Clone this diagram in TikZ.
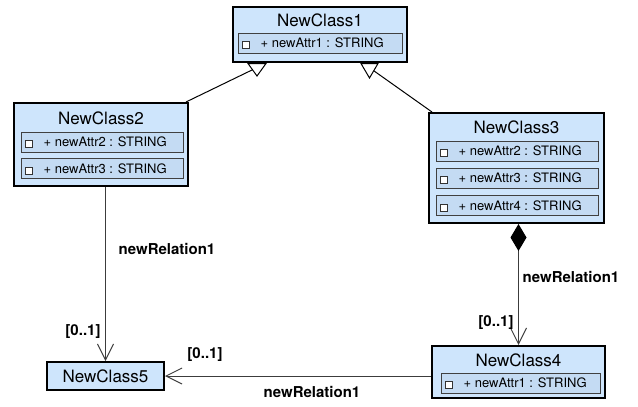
\documentclass[tikz,border=0pt]{standalone}
\usepackage{fontspec}
\setmainfont{TeX Gyre Heros}
\usetikzlibrary{arrows.meta,calc}

\definecolor{classfill}{RGB}{206,229,252}
\definecolor{attrfill}{RGB}{196,219,243}
\definecolor{linegray}{RGB}{60,60,60}

% attribute row: name, centre x, centre y, width, text
\newcommand\attrrowat[5]{%
  \node[attrrow, minimum width=#4, minimum height=20pt] (#1) at (#2,#3) {};
  \node[checkbox] (#1box) at ([xshift=8.5pt,yshift=-2pt]#1.west) {};
  \node[attrtext] (#1txt) at ([xshift=23pt]#1.west) {#5};
}

\begin{document}
\begin{tikzpicture}[x=1pt,y=-1pt,
  classbox/.style={draw=black, line width=2pt, fill=classfill, inner sep=0pt},
  classtitle/.style={font=\fontsize{17}{17}\selectfont, inner sep=0pt},
  attrrow/.style={draw=black!75, line width=1pt, fill=attrfill, inner sep=0pt},
  attrtext/.style={font=\fontsize{13}{13}\selectfont, anchor=west, inner sep=0pt},
  checkbox/.style={draw=black!80, line width=0.8pt, fill=white, minimum size=7pt, inner sep=0pt},
  lbl/.style={font=\bfseries\fontsize{15}{15}\selectfont, inner sep=0pt},
  conn/.style={draw=linegray, line width=1pt},
  vhead/.style={-{Straight Barb[length=16pt,width=16pt]}},
  genline/.style={draw=black, line width=1pt},
  gentri/.style={draw=black, line width=1pt, fill=white, line join=miter},
]
\fill[white] (0,0) rectangle (638,407);
\useasboundingbox (0,0) rectangle (638,407);

% ---- NewClass1 ----
\node[classbox, minimum width=174pt, minimum height=55pt] (c1) at (320,34.5) {};
\node[classtitle] (c1t) at (320,20) {NewClass1};
\attrrowat{c1a}{320}{43}{164pt}{+ newAttr1 : STRING}

% ---- NewClass2 ----
\node[classbox, minimum width=174pt, minimum height=83pt] (c2) at (101,144.5) {};
\node[classtitle] (c2t) at (101,118) {NewClass2};
\attrrowat{c2a}{102}{142}{162pt}{+ newAttr2 : STRING}
\attrrowat{c2b}{102}{168.5}{162pt}{+ newAttr3 : STRING}

% ---- NewClass3 ----
\node[classbox, minimum width=175pt, minimum height=110pt] (c3) at (516.5,168) {};
\node[classtitle] (c3t) at (516.5,127) {NewClass3};
\attrrowat{c3a}{517}{151}{162pt}{+ newAttr2 : STRING}
\attrrowat{c3b}{517}{178}{162pt}{+ newAttr3 : STRING}
\attrrowat{c3c}{517}{205.5}{162pt}{+ newAttr4 : STRING}

% ---- NewClass4 ----
\node[classbox, minimum width=173pt, minimum height=52pt] (c4) at (518.5,372) {};
\node[classtitle] (c4t) at (518.5,360) {NewClass4};
\attrrowat{c4a}{520.5}{383}{159pt}{+ newAttr1 : STRING}

% ---- NewClass5 ----
\node[classbox, minimum width=117pt, minimum height=28pt] (c5) at (105.5,376) {};
\node[classtitle] (c5t) at (105.5,376) {NewClass5};

% ---- generalisations to NewClass1 ----
\coordinate (g1a) at (248,63.5);
\coordinate (g1b) at (266,63.5);
\coordinate (g1c) at (257,76);
\draw[genline] ([xshift=-3pt]c2.north east) -- ($(g1a)!0.5!(g1c)$);
\draw[gentri] (g1a) -- (g1b) -- (g1c) -- cycle;

\coordinate (g2a) at (361,63.5);
\coordinate (g2b) at (378,63.5);
\coordinate (g2c) at (369.5,78);
\draw[genline] ([xshift=4pt]c3.north west) -- ($(g2b)!0.5!(g2c)$);
\draw[gentri] (g2a) -- (g2b) -- (g2c) -- cycle;

% ---- NewClass2 -> NewClass5 ----
\draw[conn, vhead] (c5.north |- c2.south) -- (c5.north);
\node[lbl] (l1) at (167,249) {newRelation1};
\node[lbl] (m1) at (83,332) {[0..1]};

% ---- NewClass3 (composite) -> NewClass4 ----
\draw[conn, {Diamond[length=27pt,width=16pt,color=black,fill=black]}-{Straight Barb[length=16pt,width=16pt]}]
  (c4.north |- c3.south) -- (c4.north);
\node[lbl] (l2) at (571,277) {newRelation1};
\node[lbl] (m2) at (496,323) {[0..1]};

% ---- NewClass4 -> NewClass5 ----
\draw[conn, vhead] (c4.west |- c5.east) -- (c5.east);
\node[lbl] (m3) at (205,355) {[0..1]};
\node[lbl] (l3) at (312,392) {newRelation1};
\end{tikzpicture}
\end{document}
